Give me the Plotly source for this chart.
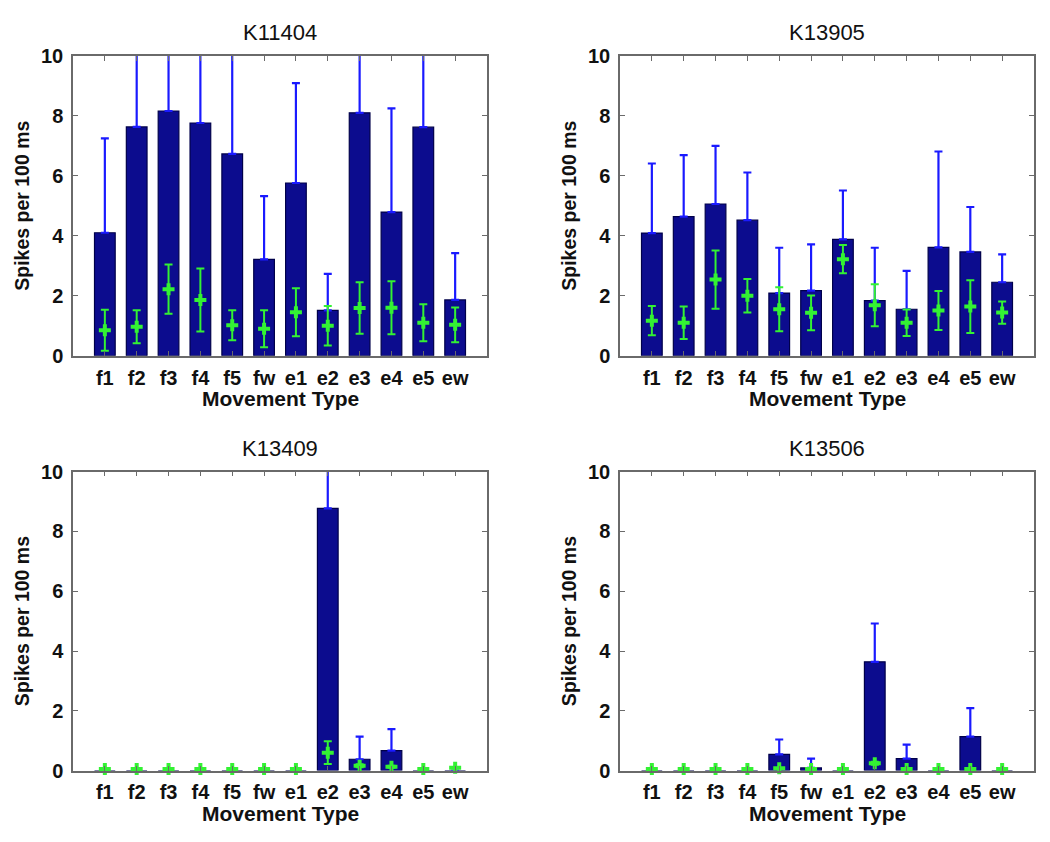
import plotly.graph_objects as go

categories = ['f1', 'f2', 'f3', 'f4', 'f5', 'fw', 'e1', 'e2', 'e3', 'e4', 'e5', 'ew']
panel_titles = ['K11404', 'K13905', 'K13409', 'K13506']

# K11404
k11404_bar = [4.10, 7.63, 8.16, 7.76, 6.73, 3.21, 5.76, 1.51, 8.10, 4.79, 7.62, 1.86]
k11404_bar_err = [3.15, 3.18, 3.48, 4.10, 4.09, 2.11, 3.33, 1.22, 4.29, 3.46, 3.69, 1.56]
k11404_green = [0.85, 0.97, 2.22, 1.86, 1.02, 0.90, 1.45, 1.00, 1.59, 1.60, 1.10, 1.03]
k11404_green_err = [0.68, 0.55, 0.82, 1.05, 0.50, 0.62, 0.80, 0.66, 0.86, 0.88, 0.62, 0.58]

# K13905
k13905_bar = [4.09, 4.64, 5.06, 4.52, 2.09, 2.17, 3.88, 1.84, 1.55, 3.61, 3.46, 2.45]
k13905_bar_err = [2.32, 2.05, 1.94, 1.59, 1.51, 1.54, 1.63, 1.76, 1.28, 3.20, 1.50, 0.93]
k13905_green = [1.17, 1.10, 2.54, 2.00, 1.55, 1.43, 3.22, 1.68, 1.10, 1.51, 1.64, 1.44]
k13905_green_err = [0.49, 0.54, 0.97, 0.56, 0.73, 0.58, 0.47, 0.70, 0.44, 0.65, 0.88, 0.37]

# K13409
k13409_bar = [0, 0, 0, 0, 0, 0, 0, 8.77, 0.38, 0.67, 0, 0]
k13409_bar_err = [0, 0, 0, 0, 0, 0, 0, 2.90, 0.76, 0.72, 0, 0]
k13409_green = [0.05, 0.05, 0.05, 0.05, 0.05, 0.05, 0.05, 0.60, 0.16, 0.13, 0.05, 0.10]
k13409_green_err = [0, 0, 0, 0, 0, 0, 0, 0.38, 0.05, 0.03, 0, 0]

# K13506
k13506_bar = [0, 0, 0, 0, 0.54, 0.09, 0, 3.64, 0.40, 0, 1.14, 0]
k13506_bar_err = [0, 0, 0, 0, 0.50, 0.31, 0, 1.28, 0.47, 0, 0.95, 0]
k13506_green = [0.05, 0.05, 0.05, 0.05, 0.08, 0.05, 0.05, 0.25, 0.05, 0.05, 0.05, 0.05]
k13506_green_err = [0, 0, 0, 0, 0, 0, 0, 0.05, 0, 0, 0, 0]

y_ticks = [0, 2, 4, 6, 8, 10]

panels = [
    (k11404_bar, k11404_bar_err, k11404_green, k11404_green_err),
    (k13905_bar, k13905_bar_err, k13905_green, k13905_green_err),
    (k13409_bar, k13409_bar_err, k13409_green, k13409_green_err),
    (k13506_bar, k13506_bar_err, k13506_green, k13506_green_err),
]

W, H = 1050, 842
# plot boxes in pixels: (left, right, top, bottom)
boxes = [(73, 487, 46, 354), (620, 1034, 46, 354), (73, 487, 473, 780), (620, 1034, 473, 780)]

BAR_COLOR = '#0c0c8e'
BAR_EDGE = '#00004a'
ERR_BLUE = '#1a1aff'
GREEN = '#33f233'
FRAME = '#6a6a6a'
FONT = 'Arial'
TXT = '#111111'

fig = go.Figure()
xs = list(range(len(categories)))


def nz(v):
    return [e if e else None for e in v]


for i, (bars, berr, grn, gerr) in enumerate(panels):
    sfx = '' if i == 0 else str(i + 1)
    fig.add_trace(go.Bar(
        x=xs, y=bars, width=0.65,
        marker=dict(color=BAR_COLOR, line=dict(color=BAR_EDGE, width=1.2)),
        error_y=dict(type='data', symmetric=False, array=nz(berr),
                     arrayminus=[0 if e else None for e in berr],
                     color=ERR_BLUE, thickness=2.2, width=4),
        xaxis='x' + sfx, yaxis='y' + sfx, showlegend=False, hoverinfo='skip'))
    fig.add_trace(go.Scatter(
        x=xs, y=grn, mode='markers',
        marker=dict(color=GREEN, symbol='cross', size=10),
        error_y=dict(type='data', array=nz(gerr), color=GREEN, thickness=2, width=4),
        xaxis='x' + sfx, yaxis='y' + sfx, showlegend=False, hoverinfo='skip',
        cliponaxis=False))

layout = dict(
    width=W, height=H, autosize=False,
    margin=dict(l=0, r=0, t=0, b=0),
    paper_bgcolor='white', plot_bgcolor='white',
    barmode='overlay',
    font=dict(family=FONT, color=TXT),
)

annotations = []
for i, (l, r, t, b) in enumerate(boxes):
    sfx = '' if i == 0 else str(i + 1)
    xd = [l / W, r / W]
    yd = [(H - b) / H, (H - t) / H]
    layout['xaxis' + sfx] = dict(
        domain=xd, anchor='y' + sfx, range=[-1, 12],
        tickmode='array', tickvals=xs, ticktext=categories,
        ticks='inside', ticklen=5, tickcolor=FRAME, tickwidth=1,
        showline=True, linecolor=FRAME, linewidth=1.5, mirror='ticks',
        showgrid=False, zeroline=False, ticklabelstandoff=3,
        tickfont=dict(family=FONT, size=20, color=TXT, weight='bold'))
    layout['yaxis' + sfx] = dict(
        domain=yd, anchor='x' + sfx, range=[0, 10],
        tickmode='array', tickvals=y_ticks,
        ticks='inside', ticklen=5, tickcolor=FRAME, tickwidth=1,
        showline=True, linecolor=FRAME, linewidth=1.5, mirror='ticks',
        showgrid=False, zeroline=False, ticklabelstandoff=4,
        tickfont=dict(family=FONT, size=20, color=TXT, weight='bold'))
    cx = (xd[0] + xd[1]) / 2
    annotations.append(dict(text=panel_titles[i], x=cx, y=(H - (t - 24)) / H,
                            xref='paper', yref='paper', showarrow=False,
                            xanchor='center', yanchor='middle',
                            font=dict(family=FONT, size=22, color=TXT)))
    annotations.append(dict(text='Movement Type', x=cx, y=(H - (b + 44)) / H,
                            xref='paper', yref='paper', showarrow=False,
                            xanchor='center', yanchor='middle',
                            font=dict(family=FONT, size=21, color=TXT, weight='bold')))
    annotations.append(dict(text='Spikes per 100 ms', x=(l - 51) / W, y=(yd[0] + yd[1]) / 2,
                            xref='paper', yref='paper', showarrow=False, textangle=-90,
                            xanchor='center', yanchor='middle',
                            font=dict(family=FONT, size=19.5, color=TXT, weight='bold')))

layout['annotations'] = annotations
fig.update_layout(**layout)
fig.write_html('out.html', config={'displayModeBar': False},
               post_script="document.body.style.margin='0';document.body.style.overflow='hidden';")
